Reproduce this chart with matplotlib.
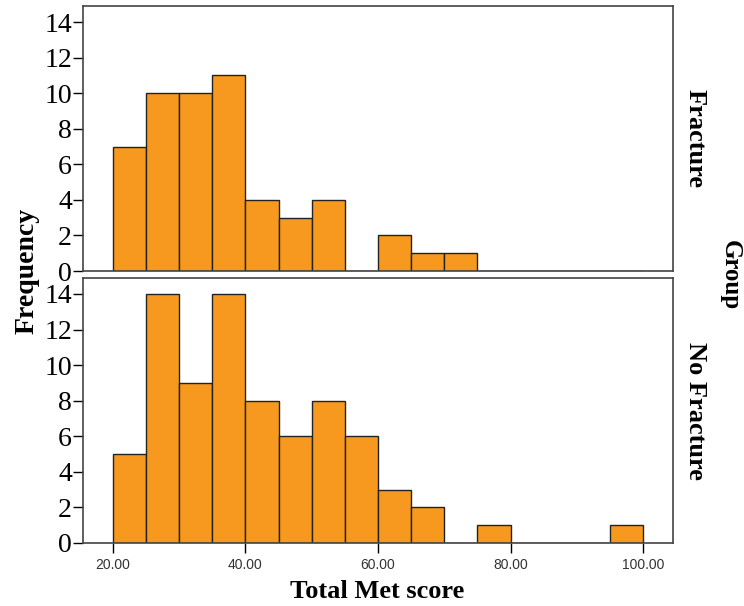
import matplotlib.pyplot as plt

OUTPUT_PATH = "out.png"

BIN_EDGES = list(range(20, 105, 5))
GROUPS = ["Fracture", "No Fracture"]
FRACTURE_COUNTS = [7, 10, 10, 11, 4, 3, 4, 0, 2, 1, 1, 0, 0, 0, 0, 0]
NO_FRACTURE_COUNTS = [5, 14, 9, 14, 8, 6, 8, 6, 3, 2, 0, 1, 0, 0, 0, 1]
X_TICKS = [20, 40, 60, 80, 100]
X_TICK_LABELS = ["20.00", "40.00", "60.00", "80.00", "100.00"]
Y_TICKS = [0, 2, 4, 6, 8, 10, 12, 14]

BAR_COLOR = "#F7991F"
SERIF = "Liberation Serif"
SANS = "Liberation Sans"


def plot_histograms() -> None:
    fig = plt.figure(figsize=(7.44, 6.06), dpi=100)
    ax_top = fig.add_axes([0.1116, 0.5528, 0.793, 0.4372])
    ax_bot = fig.add_axes([0.1116, 0.1040, 0.793, 0.4373])

    for ax, counts, group in zip((ax_top, ax_bot), (FRACTURE_COUNTS, NO_FRACTURE_COUNTS), GROUPS):
        lefts = BIN_EDGES[:-1]
        widths = [b - a for a, b in zip(BIN_EDGES[:-1], BIN_EDGES[1:])]
        ax.bar(lefts, counts, width=widths, align="edge", color=BAR_COLOR,
               edgecolor="#222222", linewidth=1.0)
        ax.set_xlim(15.5, 104.5)
        ax.set_ylim(0, 14.9)
        ax.set_yticks(Y_TICKS)
        ax.set_yticklabels([str(v) for v in Y_TICKS], fontfamily=SERIF, fontsize=20)
        ax.tick_params(axis="y", direction="out", length=7, width=1, pad=1)
        for spine in ax.spines.values():
            spine.set_color("#444444")
            spine.set_linewidth(1.2)
        ax.text(1.018, 0.5, group, transform=ax.transAxes, rotation=-90,
                ha="left", va="center", fontfamily=SERIF, fontsize=19,
                fontweight="bold")

    ax_top.set_xticks([])
    ax_bot.set_xticks(X_TICKS)
    ax_bot.set_xticklabels(X_TICK_LABELS, fontfamily=SANS, fontsize=10, color="#333333")
    ax_bot.tick_params(axis="x", direction="out", length=7, width=1, pad=4)

    fig.text(0.507, 0.024, "Total Met score", ha="center", va="center",
             fontfamily=SERIF, fontsize=19, fontweight="bold")
    fig.text(0.037, 0.553, "Frequency", ha="center", va="center", rotation=90,
             fontfamily=SERIF, fontsize=20, fontweight="bold")
    fig.text(0.981, 0.546, "Group", ha="center", va="center", rotation=-90,
             fontfamily=SERIF, fontsize=18, fontweight="bold")

    fig.savefig(OUTPUT_PATH, dpi=100)


if __name__ == "__main__":
    plot_histograms()
